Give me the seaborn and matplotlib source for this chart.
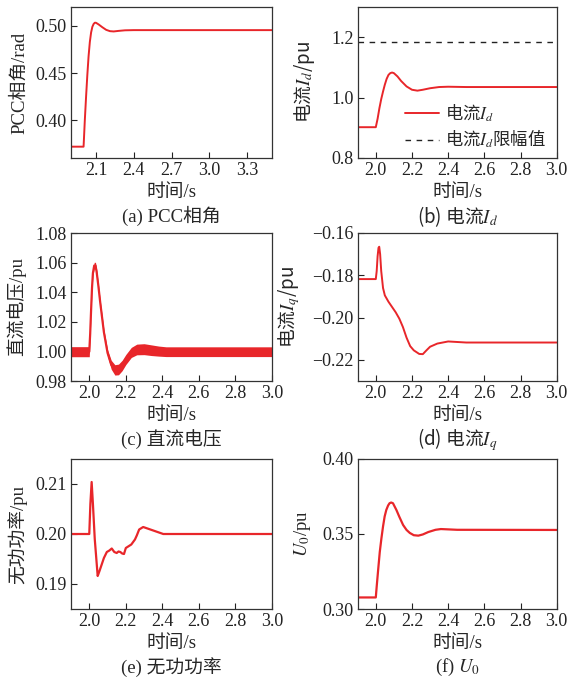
import numpy as np
import pandas as pd
import matplotlib
matplotlib.use('Agg')
import matplotlib.pyplot as plt
import seaborn as sns

# (a) PCC phase angle
t_a = [1.9, 2.0, 2.003, 2.01, 2.02, 2.03, 2.04, 2.05, 2.06, 2.07, 2.08, 2.09, 2.1, 2.12, 2.15,
       2.18, 2.21, 2.24, 2.28, 2.33, 2.4, 2.6, 3.0, 3.5]
v_a = [0.372, 0.372, 0.38, 0.40, 0.425, 0.448, 0.468, 0.483, 0.493, 0.499, 0.502, 0.5034, 0.5032,
       0.5015, 0.4985, 0.4958, 0.4944, 0.4941, 0.4947, 0.4953, 0.4955, 0.4955, 0.4955, 0.4955]

# (b) current Id and its limit
t_b = [1.9, 2.0, 2.01, 2.02, 2.03, 2.04, 2.05, 2.06, 2.07, 2.08, 2.09, 2.1, 2.12, 2.14, 2.17,
       2.2, 2.23, 2.26, 2.3, 2.35, 2.4, 2.5, 3.0]
v_b = [0.902, 0.902, 0.93, 0.965, 0.995, 1.02, 1.043, 1.062, 1.075, 1.081, 1.083, 1.081, 1.07,
       1.055, 1.037, 1.026, 1.023, 1.026, 1.031, 1.035, 1.036, 1.035, 1.035]
t_b_lim = [1.9, 3.0]
v_b_lim = [1.183, 1.183]

# (c) DC voltage: centre of the ripple band and its half height
t_c = [1.9, 2.0, 2.005, 2.01, 2.015, 2.02, 2.027, 2.034, 2.04, 2.05, 2.06, 2.08, 2.1, 2.12,
       2.14, 2.16, 2.18, 2.2, 2.23, 2.26, 2.3, 2.34, 2.38, 2.42, 2.5, 3.0]
v_c = [0.9998, 0.9998, 1.012, 1.028, 1.043, 1.053, 1.058, 1.058, 1.054, 1.044, 1.033, 1.013,
       0.999, 0.991, 0.9875, 0.9878, 0.9905, 0.9945, 0.9993, 1.0013, 1.0015, 1.0008, 1.0002,
       0.9998, 0.9998, 0.9998]
a_c = [0.0034, 0.0034, 0.002, 0.0015, 0.0015, 0.0018, 0.0022, 0.0022, 0.0018, 0.0015, 0.0015,
       0.0018, 0.0022, 0.003, 0.0035, 0.0036, 0.0035, 0.0034, 0.0034, 0.0036, 0.0037, 0.0036,
       0.0034, 0.0033, 0.0033, 0.0033]

# (d) current Iq
t_d = [1.9, 2.0, 2.005, 2.01, 2.015, 2.019, 2.024, 2.03, 2.04, 2.05, 2.07, 2.09, 2.11, 2.13,
       2.15, 2.17, 2.19, 2.21, 2.24, 2.26, 2.28, 2.3, 2.34, 2.4, 2.5, 3.0]
v_d = [-0.1818, -0.1818, -0.178, -0.171, -0.167, -0.1665, -0.170, -0.178, -0.186, -0.1895,
       -0.1925, -0.195, -0.1975, -0.2005, -0.2045, -0.2095, -0.2135, -0.2155, -0.2172, -0.2173,
       -0.2155, -0.2138, -0.2123, -0.2113, -0.2118, -0.2118]

# (e) reactive power
t_e = [1.9, 2.0, 2.006, 2.013, 2.02, 2.03, 2.046, 2.055, 2.068, 2.08, 2.096, 2.11, 2.123,
       2.137, 2.15, 2.16, 2.17, 2.18, 2.19, 2.2, 2.23, 2.25, 2.26, 2.273, 2.295, 2.35, 2.405, 3.0]
v_e = [0.2, 0.2, 0.206, 0.2104, 0.206, 0.199, 0.1916, 0.1925, 0.1939, 0.1952, 0.1964, 0.1967,
       0.1971, 0.1964, 0.1962, 0.1965, 0.1964, 0.1961, 0.196, 0.1972, 0.1979, 0.1989, 0.1997,
       0.2009, 0.2014, 0.2007, 0.2, 0.2]

# (f) U0
t_f = [1.9, 2.0, 2.005, 2.013, 2.022, 2.031, 2.04, 2.049, 2.058, 2.068, 2.076, 2.085, 2.095,
       2.114, 2.13, 2.151, 2.17, 2.188, 2.21, 2.235, 2.26, 2.29, 2.33, 2.36, 2.45, 3.0]
v_f = [0.3077, 0.3077, 0.315, 0.326, 0.338, 0.347, 0.355, 0.3617, 0.3660, 0.3690, 0.3705, 0.371,
       0.3705, 0.366, 0.3615, 0.356, 0.3527, 0.3507, 0.3492, 0.3489, 0.3497, 0.3513, 0.3528,
       0.3533, 0.3528, 0.3527]

xt_a = [2.1, 2.4, 2.7, 3.0, 3.3]
xt = [2.0, 2.2, 2.4, 2.6, 2.8, 3.0]
yt_a = [0.40, 0.45, 0.50]
yt_b = [0.8, 1.0, 1.2]
yt_c = [0.98, 1.00, 1.02, 1.04, 1.06, 1.08]
yt_d = [-0.22, -0.20, -0.18, -0.16]
yt_e = [0.19, 0.20, 0.21]
yt_f = [0.30, 0.35, 0.40]

sns.set_theme(style='ticks')
plt.rcParams['font.family'] = ['Liberation Serif', 'Noto Sans CJK SC']
plt.rcParams['mathtext.fontset'] = 'stix'
plt.rcParams['axes.unicode_minus'] = True

RED = '#e8262a'
FS_TICK = 13
FS = 13.5
CJK = ['Noto Sans CJK SC']

fig = plt.figure(figsize=(5.69, 6.82), dpi=100)
W, H = 569, 682


def make_ax(x0, x1, y0, y1):
    return fig.add_axes([x0 / W, 1 - y1 / H, (x1 - x0) / W, (y1 - y0) / H])


ax_a = make_ax(71, 272, 7, 158)
ax_b = make_ax(357.7, 556.7, 7, 158)
ax_c = make_ax(71, 272, 233, 381)
ax_d = make_ax(357.7, 556.7, 233, 381)
ax_e = make_ax(71, 272, 459, 609)
ax_f = make_ax(357.7, 556.7, 459, 609)


def draw(ax, t, v, lw=1.4):
    df = pd.DataFrame({'t': t, 'v': v})
    sns.lineplot(data=df, x='t', y='v', ax=ax, color=RED, lw=lw, estimator=None, sort=False)


draw(ax_a, t_a, v_a)
draw(ax_b, t_b, v_b)
sns.lineplot(x=t_b_lim, y=v_b_lim, ax=ax_b, color='#222222', lw=1.0, linestyle=(0, (4, 4)))

# ripple band of the DC voltage
df_c = pd.DataFrame({'t': t_c, 'v': v_c, 'a': a_c})
ax_c.fill_between(df_c['t'], df_c['v'] - df_c['a'], df_c['v'] + df_c['a'], color=RED, lw=0)
sns.lineplot(data=df_c, x='t', y='v', ax=ax_c, color=RED, lw=1.6, estimator=None, sort=False)

draw(ax_d, t_d, v_d)
draw(ax_e, t_e, v_e, lw=1.6)
draw(ax_f, t_f, v_f, lw=1.6)

setup = [
    (ax_a, (1.9, 3.5), (0.36, 0.52), xt_a, yt_a, '%.1f', '%.2f', 'PCC相角/rad', -0.215, None, '(a) PCC相角', None),
    (ax_b, (1.9, 3.0), (0.8, 1.3), xt, yt_b, '%.1f', '%.1f', '电流$I_d$/pu', -0.205, CJK, '(b) 电流$I_d$', CJK),
    (ax_c, (1.9, 3.0), (0.98, 1.08), xt, yt_c, '%.1f', '%.2f', '直流电压/pu', -0.225, None, '(c) 直流电压', None),
    (ax_d, (1.9, 3.0), (-0.23, -0.16), xt, yt_d, '%.1f', '%.2f', '电流$I_q$/pu', -0.28, CJK, '(d) 电流$I_q$', CJK),
    (ax_e, (1.9, 3.0), (0.185, 0.215), xt, yt_e, '%.1f', '%.2f', '无功功率/pu', -0.22, None, '(e) 无功功率', None),
    (ax_f, (1.9, 3.0), (0.30, 0.40), xt, yt_f, '%.1f', '%.2f', '$U_0$/pu', -0.225, None, '(f) $U_0$', None),
]

for ax, xl, yl, xticks, yticks, xf, yf, ylab, ylx, yfam, cap, cfam in setup:
    ax.set_xlim(*xl)
    ax.set_ylim(*yl)
    ax.set_xticks(xticks)
    ax.set_xticklabels([xf % x for x in xticks])
    ax.set_yticks(yticks)
    ax.set_yticklabels([(yf % y).replace('-', '\u2212') for y in yticks])
    ax.tick_params(direction='in', length=4, width=0.8, labelsize=FS_TICK, pad=3, colors='#222222')
    for s in ax.spines.values():
        s.set_linewidth(0.9)
        s.set_color('#333333')
    ax.set_xlabel('')
    if yfam:
        ax.set_ylabel(ylab, fontsize=FS, family=yfam)
    else:
        ax.set_ylabel(ylab, fontsize=FS)
    ax.yaxis.set_label_coords(ylx, 0.5)
    ax.annotate('时间/s', xy=(0.5, 0), xycoords='axes fraction', xytext=(0, -25),
                textcoords='offset points', ha='center', va='center', fontsize=FS)
    if cfam:
        ax.annotate(cap, xy=(0.5, 0), xycoords='axes fraction', xytext=(0, -42),
                    textcoords='offset points', ha='center', va='center', fontsize=FS,
                    family=cfam)
    else:
        ax.annotate(cap, xy=(0.5, 0), xycoords='axes fraction', xytext=(0, -42),
                    textcoords='offset points', ha='center', va='center', fontsize=FS)

leg_handles = [plt.Line2D([], [], color=RED, lw=1.4),
               plt.Line2D([], [], color='#222222', lw=1.0, linestyle=(0, (4, 4)))]
ax_b.legend(leg_handles, ['电流$I_d$', '电流$I_d$限幅值'], loc='upper left',
            bbox_to_anchor=(0.175, 0.45), frameon=False, handlelength=2.0,
            labelspacing=0.25, handletextpad=0.35, borderpad=0.2,
            prop={'family': CJK, 'size': 12.5})

fig.savefig('out.png', dpi=100)
